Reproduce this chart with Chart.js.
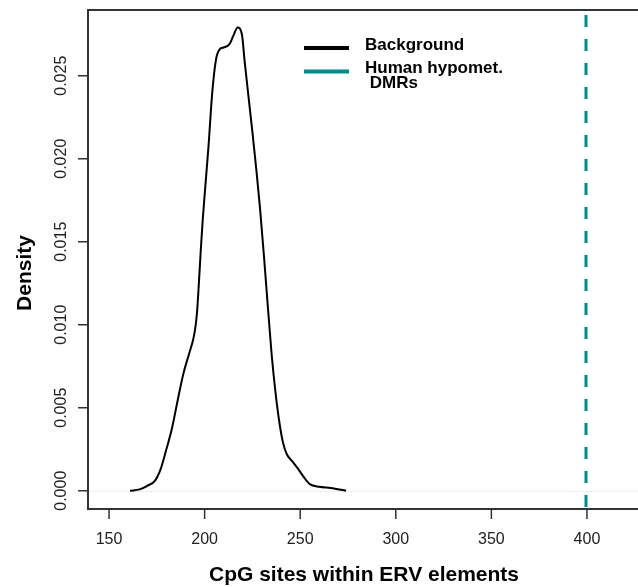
<!DOCTYPE html>
<html>
<head>
<meta charset="utf-8">
<script src="https://cdn.jsdelivr.net/npm/chart.js@4/dist/chart.umd.min.js"></script>
<style>
  html, body { margin: 0; padding: 0; background: #fff; }
  #wrap { width: 638px; height: 587px; }
</style>
</head>
<body>
<div id="wrap"><canvas id="chart" width="638" height="587"></canvas></div>
<script>
// density of CpG sites within ERV elements (background sample)
const cpgSites = [161, 166, 170, 174, 177, 180, 183, 186, 189, 192, 194, 195, 196, 197, 198, 199, 200, 202, 204, 206, 208, 210, 213, 215, 217.3, 219.5, 221, 223, 225, 227, 229, 231, 233, 235, 237, 239, 241, 243, 246, 249, 252, 255, 260, 266, 274];
const density = [0.0000, 0.00008, 0.0003, 0.0006, 0.0013, 0.0025, 0.0038, 0.0055, 0.0071, 0.0083, 0.0091, 0.0097, 0.0107, 0.0125, 0.0145, 0.0163, 0.0178, 0.0207, 0.0240, 0.0260, 0.0266, 0.0267, 0.0269, 0.0274, 0.0279, 0.0275, 0.0258, 0.0237, 0.0216, 0.0194, 0.0170, 0.0142, 0.0112, 0.0083, 0.0060, 0.0042, 0.0029, 0.0022, 0.00175, 0.0013, 0.0008, 0.0004, 0.00024, 0.00017, 0.0000];

// human hypomethylated DMRs value
const dmrValue = 399.5;

const xTicks = [150, 200, 250, 300, 350, 400];
const yTicks = [0, 0.005, 0.010, 0.015, 0.020, 0.025];
const yTickLabels = ['0.000', '0.005', '0.010', '0.015', '0.020', '0.025'];
const xMin = 139, xMax = 426.7;
const yMin = -0.0011, yMax = 0.02896;

const legendItems = [
    { color: '#000000', lines: ['Background'] },
    { color: '#008B8B', lines: ['Human hypomet.', ' DMRs'] }
];

const font = '"Liberation Sans", Arial, Helvetica, sans-serif';

// axes, box, tick labels, titles and legend in base-R style
const rStyle = {
    id: 'rStyle',
    beforeDatasetsDraw(c) {
        const ctx = c.ctx, a = c.chartArea, y = c.scales.y;
        ctx.save();
        ctx.strokeStyle = '#ececec';
        ctx.lineWidth = 1;
        ctx.beginPath();
        const y0 = Math.round(y.getPixelForValue(0)) + 0.5;
        ctx.moveTo(a.left, y0);
        ctx.lineTo(a.right, y0);
        ctx.stroke();
        ctx.restore();
    },
    afterDraw(c) {
        const ctx = c.ctx, a = c.chartArea, x = c.scales.x, y = c.scales.y;
        ctx.save();
        // box (left, top, bottom)
        ctx.strokeStyle = '#333';
        ctx.lineWidth = 2;
        ctx.beginPath();
        ctx.moveTo(a.right, a.top);
        ctx.lineTo(a.left, a.top);
        ctx.lineTo(a.left, a.bottom);
        ctx.lineTo(a.right, a.bottom);
        ctx.stroke();

        // ticks
        ctx.lineWidth = 1.5;
        ctx.beginPath();
        xTicks.forEach(v => {
            const px = x.getPixelForValue(v);
            ctx.moveTo(px, a.bottom);
            ctx.lineTo(px, a.bottom + 10);
        });
        yTicks.forEach(v => {
            const py = y.getPixelForValue(v);
            ctx.moveTo(a.left, py);
            ctx.lineTo(a.left - 10, py);
        });
        ctx.stroke();

        // tick labels
        ctx.fillStyle = '#222';
        ctx.font = '16px ' + font;
        ctx.textAlign = 'center';
        ctx.textBaseline = 'middle';
        xTicks.forEach(v => ctx.fillText(String(v), x.getPixelForValue(v), a.bottom + 31));
        yTicks.forEach((v, i) => {
            ctx.save();
            ctx.translate(a.left - 26, y.getPixelForValue(v));
            ctx.rotate(-Math.PI / 2);
            ctx.fillText(yTickLabels[i], 0, 0);
            ctx.restore();
        });

        // axis titles
        ctx.fillStyle = '#000';
        ctx.font = 'bold 21px ' + font;
        ctx.textBaseline = 'alphabetic';
        ctx.fillText('CpG sites within ERV elements', 364, 581);
        ctx.save();
        ctx.translate(31, 273);
        ctx.rotate(-Math.PI / 2);
        ctx.fillText('Density', 0, 0);
        ctx.restore();

        // legend
        ctx.font = 'bold 17px ' + font;
        ctx.textAlign = 'left';
        ctx.textBaseline = 'middle';
        ctx.lineWidth = 4;
        const lineY = [48, 71.5];
        const textY = [[45.5], [68.5, 83.5]];
        legendItems.forEach((item, i) => {
            ctx.strokeStyle = item.color;
            ctx.beginPath();
            ctx.moveTo(304, lineY[i]);
            ctx.lineTo(349, lineY[i]);
            ctx.stroke();
            item.lines.forEach((t, j) => ctx.fillText(t, 365, textY[i][j]));
        });
        ctx.restore();
    }
};

new Chart(document.querySelector('#chart'), {
    type: 'line',
    data: {
        datasets: [
            {
                label: 'Background',
                data: cpgSites.map((v, i) => ({ x: v, y: density[i] })),
                borderColor: '#000',
                borderWidth: 2,
                pointRadius: 0,
                cubicInterpolationMode: 'monotone',
                fill: false
            },
            {
                label: 'Human hypomet. DMRs',
                data: [{ x: dmrValue, y: yMax }, { x: dmrValue, y: yMin }],
                borderColor: '#008B8B',
                borderWidth: 3,
                borderDash: [12, 12],
                borderDashOffset: 19,
                pointRadius: 0,
                clip: 0
            }
        ]
    },
    options: {
        responsive: false,
        animation: false,
        devicePixelRatio: 1,
        layout: { padding: { left: 88, top: 10, right: 0, bottom: 78 } },
        plugins: { legend: { display: false }, tooltip: { enabled: false } },
        scales: {
            x: { type: 'linear', min: xMin, max: xMax, display: false },
            y: { type: 'linear', min: yMin, max: yMax, display: false }
        }
    },
    plugins: [rStyle]
});
</script>
</body>
</html>
